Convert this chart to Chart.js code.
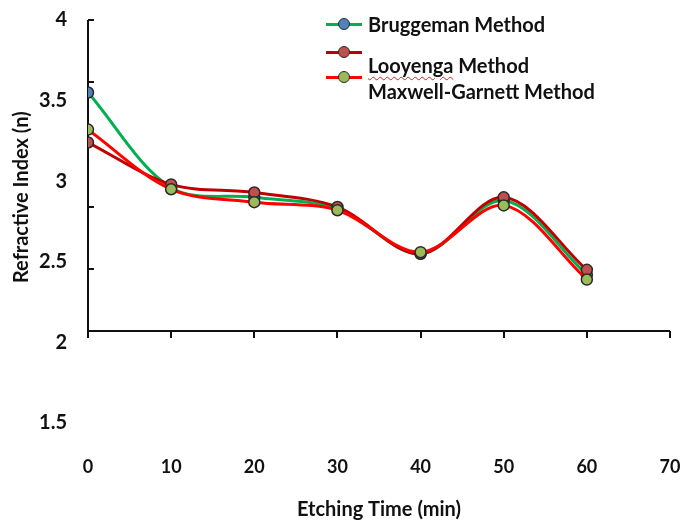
<!DOCTYPE html>
<html>
<head>
<meta charset="utf-8">
<script src="https://cdn.jsdelivr.net/npm/chart.js@4.4.1/dist/chart.umd.min.js"></script>
<style>
  body { margin: 0; background: #fff; }
  #wrap { position: relative; width: 685px; height: 523px; }
  #legend { position: absolute; left: 0; top: 0; font-family: Lato, sans-serif; font-weight: 700; font-size: 20px; color: #111; }
  .lg-line { position: absolute; left: 326px; width: 36px; height: 3px; margin-top: -1.5px; }
  .lg-dot { position: absolute; left: 338px; width: 10px; height: 10px; margin-top: -6.5px; border: 1.5px solid #2a2a2a; border-radius: 50%; }
  .lg-text { position: absolute; left: 368px; white-space: nowrap; line-height: 22px; margin-top: -11px; }
  .spell { text-decoration: underline wavy #e02020; text-decoration-thickness: 1px; text-underline-offset: 3px; }
</style>
</head>
<body>
<div id="wrap">
  <canvas id="chart" width="685" height="523"></canvas>
  <div id="legend"></div>
</div>
<script>
// ── data ──
const TIMES     = [0, 10, 20, 30, 40, 50, 60];
const BRUGGEMAN = [3.55, 2.96, 2.90, 2.83, 2.55, 2.88, 2.42];
const LOOYENGA  = [3.24, 2.98, 2.93, 2.84, 2.55, 2.90, 2.45];
const MAXWELL   = [3.32, 2.95, 2.87, 2.82, 2.56, 2.85, 2.39];
const SERIES_NAMES = ['Bruggeman Method', 'Looyenga Method', 'Maxwell-Garnett Method'];
const X_TICKS = [0, 10, 20, 30, 40, 50, 60, 70];
const Y_TICKS = [1.5, 2, 2.5, 3, 3.5, 4];

// styling
const LINE_COL   = ['#00B050', '#C00000', '#FF0000'];
const MARKER_COL = ['#4F81BD', '#C0504D', '#9BBB59'];
// legend rows: line y, text y (text sits lower than its marker in the figure)
const LEGEND_ROWS = [[24, 24], [52, 65], [77, 91]];

const FONT = "Lato, 'Open Sans', sans-serif";
const INK = '#111';

// axis frame: drawn on the hidden 'yf' scale (0 = x axis, 1..5 = inner ticks)
const framePlugin = {
  id: 'frame',
  beforeDatasetsDraw(chart) {
    const { ctx, scales: { x, yf } } = chart;
    const x0 = x.getPixelForValue(X_TICKS[0]);
    const x1 = x.getPixelForValue(X_TICKS[X_TICKS.length - 1]);
    const yBase = yf.getPixelForValue(0);
    ctx.save();
    ctx.strokeStyle = INK;
    ctx.lineWidth = 2;
    ctx.beginPath();
    ctx.moveTo(x0, yf.getPixelForValue(5));
    ctx.lineTo(x0, yBase);
    ctx.lineTo(x1, yBase);
    for (let v = 1; v <= 5; v++) {
      const py = Math.round(yf.getPixelForValue(v));
      ctx.moveTo(x0, py);
      ctx.lineTo(x0 + 6, py);
    }
    X_TICKS.forEach(v => {
      const px = Math.round(x.getPixelForValue(v));
      ctx.moveTo(px, yBase);
      ctx.lineTo(px, yBase + 7);
    });
    ctx.stroke();
    ctx.restore();
  }
};

function ds(label, vals, i) {
  return {
    label,
    data: TIMES.map((t, k) => ({ x: t, y: vals[k] })),
    borderColor: LINE_COL[i],
    borderWidth: 3,
    pointBackgroundColor: MARKER_COL[i],
    pointBorderColor: '#2a2a2a',
    pointBorderWidth: 1.5,
    pointRadius: 5.5,
    tension: 0.33,
    order: 3 - i,
  };
}

new Chart(document.getElementById('chart'), {
  type: 'line',
  data: {
    datasets: [
      ds(SERIES_NAMES[0], BRUGGEMAN, 0),
      ds(SERIES_NAMES[1], LOOYENGA, 1),
      ds(SERIES_NAMES[2], MAXWELL, 2),
    ],
  },
  options: {
    responsive: false,
    animation: false,
    layout: { padding: { left: 0, right: 15, top: 20, bottom: 0 } },
    plugins: { legend: { display: false }, tooltip: { enabled: false } },
    scales: {
      x: {
        type: 'linear', min: 0, max: 70,
        afterBuildTicks: s => { s.ticks = X_TICKS.map(v => ({ value: v })); },
        afterFit: s => { s.height = 100; s.paddingLeft = 0; s.paddingRight = 0; },
        grid: { display: false, drawTicks: false },
        border: { display: false },
        ticks: { padding: 33, color: INK, font: { family: FONT, size: 18, weight: 'bold' } },
        title: { display: true, text: 'Etching Time (min)', color: INK, padding: { top: 0, bottom: 1 },
                 font: { family: FONT, size: 20, weight: 'bold' } },
      },
      y: {
        min: 1.5, max: 4,
        afterBuildTicks: s => { s.ticks = Y_TICKS.map(v => ({ value: v })); },
        afterFit: s => { s.width = 88; s.paddingTop = 0; s.paddingBottom = 0; },
        grid: { display: false, drawTicks: false },
        border: { display: false },
        ticks: { padding: 21, color: INK, font: { family: FONT, size: 20, weight: 'bold' },
                 callback: v => String(v) },
        title: { display: true, text: ' '.repeat(10) + 'Refractive Index (n)', color: INK, padding: { top: 10, bottom: 0 },
                 font: { family: FONT, size: 20, weight: 'bold' } },
      },
      yf: { display: false, min: -1.48, max: 5 },
    },
  },
  plugins: [framePlugin],
});

// legend (HTML overlay, top right inside the plot)
const legendEl = document.getElementById('legend');
SERIES_NAMES.forEach((name, i) => {
  const [ly, ty] = LEGEND_ROWS[i];
  const line = document.createElement('div');
  line.className = 'lg-line';
  line.style.top = ly + 'px';
  line.style.background = LINE_COL[i];
  const dot = document.createElement('div');
  dot.className = 'lg-dot';
  dot.style.top = ly + 'px';
  dot.style.background = MARKER_COL[i];
  const txt = document.createElement('div');
  txt.className = 'lg-text';
  txt.style.top = ty + 'px';
  txt.innerHTML = name.replace('Looyenga', '<span class="spell">Looyenga</span>');
  legendEl.append(line, dot, txt);
});
</script>
</body>
</html>
